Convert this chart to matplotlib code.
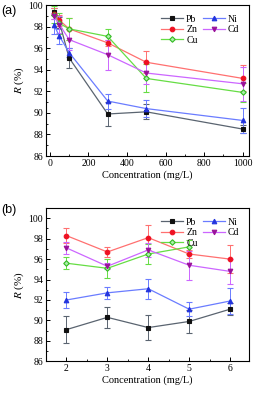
import matplotlib
matplotlib.use("Agg")
import matplotlib.pyplot as plt
from matplotlib.ticker import MultipleLocator, AutoMinorLocator

plt.rcParams['font.family'] = ['Liberation Serif', 'DejaVu Serif']
plt.rcParams['mathtext.fontset'] = 'stix'

# panel (a) data
conc_a = [20, 50, 100, 300, 500, 1000]
pb_a = [99.4, 98.4, 95.1, 89.9, 90.1, 88.5]
pb_a_err = [0.3, 0.5, 0.9, 1.1, 0.7, 0.4]
ni_a = [98.2, 97.1, 95.6, 91.1, 90.4, 89.3]
ni_a_err = [0.9, 0.7, 0.4, 0.7, 0.8, 1.2]
zn_a = [99.2, 98.6, 97.8, 96.5, 94.7, 93.2]
zn_a_err = [0.5, 0.5, 1.0, 0.3, 1.0, 1.2]
cd_a = [99.0, 98.2, 96.8, 95.4, 93.7, 92.7]
cd_a_err = [0.3, 0.8, 1.0, 1.4, 1.0, 1.6]
cu_a = [99.1, 98.3, 97.8, 97.1, 93.2, 91.9]
cu_a_err = [0.8, 1.0, 1.0, 0.7, 1.3, 0.9]

# panel (b) data
conc_b = [2, 3, 4, 5, 6]
pb_b = [89.1, 90.3, 89.3, 89.9, 91.1]
pb_b_err = [1.3, 1.0, 1.2, 1.1, 0.6]
ni_b = [92.0, 92.7, 93.1, 91.1, 91.9]
ni_b_err = [0.8, 0.6, 1.0, 0.7, 1.3]
zn_b = [98.3, 96.7, 98.1, 96.5, 96.0]
zn_b_err = [0.7, 0.5, 1.2, 0.4, 1.4]
cd_b = [97.1, 95.3, 96.9, 95.4, 94.8]
cd_b_err = [0.6, 0.3, 0.7, 1.4, 1.2]
conc_b_cu = [2, 3, 4, 5]
cu_b = [95.6, 95.1, 96.5, 97.2]
cu_b_err = [0.6, 0.9, 1.0, 0.7]

# line colour, marker edge, marker face, marker
styles = {
    'Pb': ('#5a6470', '#111111', '#111111', 's'),
    'Ni': ('#6a7cff', '#2233dd', '#2233dd', '^'),
    'Zn': ('#ff7070', '#ee1122', '#ee1122', 'o'),
    'Cd': ('#cc66ff', '#991199', '#991199', 'v'),
    'Cu': ('#66dd44', '#33bb22', '#aaeeaa', 'D'),
}

fig = plt.figure(figsize=(2.54, 3.94), dpi=100)
ax1 = fig.add_axes([0.181, 0.604, 0.799, 0.383])
ax2 = fig.add_axes([0.181, 0.083, 0.799, 0.389])


def draw(ax, x, name, y, err):
    lc, mec, mfc, mk = styles[name]
    ms = 2.8 if mk == 'D' else 3.3
    ax.errorbar(x, y, yerr=err, color=lc, lw=0.9, marker=mk, ms=ms,
                mfc=mfc, mec=mec, mew=0.8, ecolor=lc, elinewidth=0.7,
                capsize=2.2, capthick=0.7, label=name)


for ax, x, series in [
    (ax1, conc_a, [('Pb', pb_a, pb_a_err), ('Zn', zn_a, zn_a_err),
                   ('Cu', cu_a, cu_a_err), ('Ni', ni_a, ni_a_err),
                   ('Cd', cd_a, cd_a_err)]),
    (ax2, conc_b, [('Pb', pb_b, pb_b_err), ('Zn', zn_b, zn_b_err),
                   ('Cu', cu_b, cu_b_err), ('Ni', ni_b, ni_b_err),
                   ('Cd', cd_b, cd_b_err)]),
]:
    for name, y, err in series:
        xx = conc_b_cu if (ax is ax2 and name == 'Cu') else x
        draw(ax, xx, name, y, err)
    handles, labels = ax.get_legend_handles_labels()
    handles = [h[0] for h in handles]  # line only, no error bars
    ax.legend(handles, labels, ncol=2, loc='upper right', frameon=False,
              fontsize=7, handlelength=2.3, columnspacing=0.5,
              labelspacing=0.15, handletextpad=0.3, borderaxespad=0.6)
    ax.set_ylabel('$R$ (%)', fontsize=8, labelpad=2)
    ax.set_xlabel('Concentration (mg/L)', fontsize=7.5, labelpad=2)
    ax.tick_params(direction='in', labelsize=7, length=3, width=0.7, pad=2)
    ax.tick_params(which='minor', direction='in', length=1.5, width=0.6)
    ax.yaxis.set_major_locator(MultipleLocator(2))
    ax.xaxis.set_minor_locator(AutoMinorLocator(2))
    ax.yaxis.set_minor_locator(AutoMinorLocator(2))
    for s in ax.spines.values():
        s.set_linewidth(0.8)

ax1.set_xlim(-20, 1032)
ax1.set_ylim(86, 100)
ax1.xaxis.set_major_locator(MultipleLocator(200))

ax2.set_xlim(1.5, 6.46)
ax2.set_ylim(86, 101)
ax2.xaxis.set_major_locator(MultipleLocator(1))

fig.text(0.005, 0.965, '(a)', fontsize=9, family='Liberation Sans')
fig.text(0.005, 0.46, '(b)', fontsize=9, family='Liberation Sans')

fig.savefig('out.png', dpi=100)
